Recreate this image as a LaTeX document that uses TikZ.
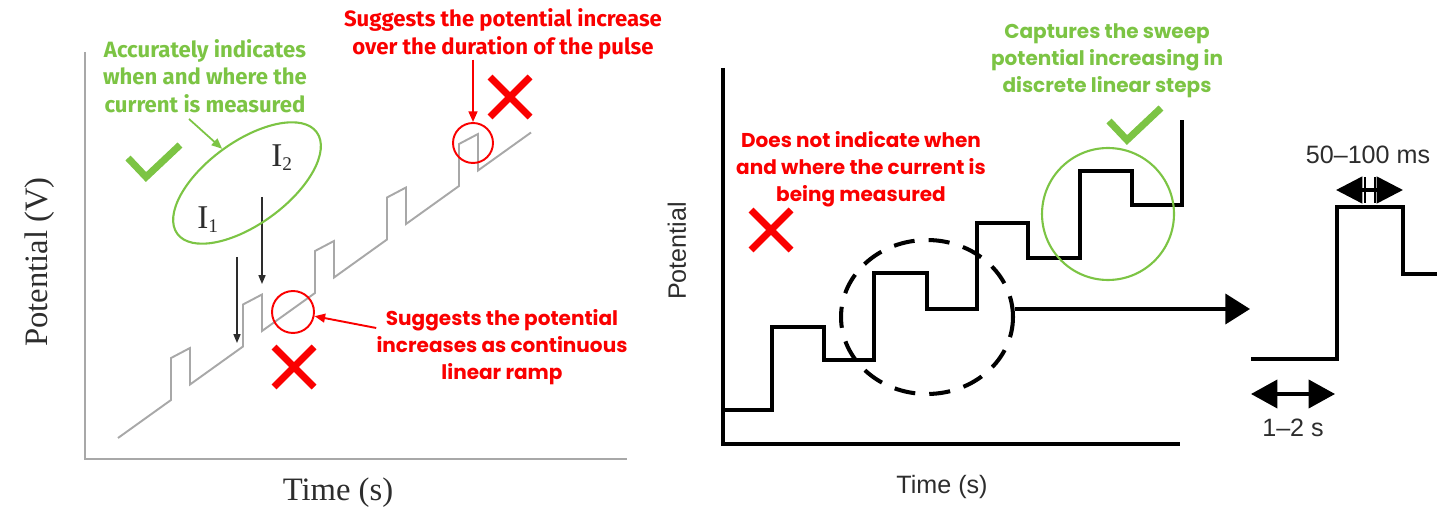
\documentclass[tikz,border=0pt]{standalone}
\usepackage{fontspec}
\usetikzlibrary{arrows.meta,shapes.geometric}
\setmainfont{Liberation Serif}
\newfontfamily\plotsans{Liberation Sans}
\newfontfamily\notefont{Poppins}
\newfontfamily\narrowfont{Fira Sans}

\definecolor{okgreen}{RGB}{124,196,68}
\definecolor{badred}{RGB}{250,0,0}
\definecolor{rampgray}{RGB}{168,168,168}
\definecolor{plotink}{RGB}{45,45,45}

\tikzset{
  % annotation texts
  narrownote/.style={align=center, inner sep=0pt, font=\narrowfont\bfseries\fontsize{12.6}{15.8}\selectfont},
  widenote/.style={align=center, inner sep=0pt, font=\notefont\bfseries\fontsize{11.4}{15.4}\selectfont},
  serifaxis/.style={inner sep=0pt, text=plotink, font=\fontsize{18.6}{20}\selectfont},
  sansaxis/.style={inner sep=0pt, text=plotink, font=\plotsans\fontsize{14.3}{16}\selectfont},
  % lines
  axisgray/.style={draw=rampgray, line width=1.4pt},
  rampline/.style={draw=rampgray, line width=1.1pt, line join=miter},
  stepline/.style={line width=2.4pt, line join=miter},
  measarrow/.style={draw=plotink, line width=0.7pt, -{Triangle[length=5pt,width=4pt]}},
  redarrow/.style={draw=badred, line width=1.1pt, -{Triangle[length=6pt,width=5pt]}},
  greenarrow/.style={draw=okgreen, line width=1pt, -{Triangle[length=6pt,width=5pt]}},
  redring/.style={circle, draw=badred, line width=1.1pt, inner sep=0pt},
  crossline/.style={draw=badred, line width=4pt},
  tickline/.style={draw=okgreen, line width=4pt, line join=miter},
  badmark/.pic={\draw[crossline] (-20,-20) -- (20,20) (-20,20) -- (20,-20);},
  okmark/.pic={\draw[tickline] (-18,-19) -- (0,0) -- (34,-32);}
}

\newcommand{\sublow}[1]{\raisebox{-2pt}{\fontsize{11}{12}\selectfont #1}}

\begin{document}
\begin{tikzpicture}[x=0.02cm, y=-0.02cm]
    \useasboundingbox (0,0) rectangle (1456,526);

    % ---- left panel: axes and labels
    \draw[axisgray] (85,52) -- (85,459) -- (627,459);
    \node[serifaxis, rotate=90] (leftylab) at (40,262) {Potential (V)};
    \node[serifaxis] (leftxlab) at (338,493) {Time (s)};

    % ramp with pulses on top
    \draw[rampline] (118,438)
        \foreach \k in {1,...,5} { -- ++(53,-38) -- ++(0,-42) -- ++(19,-10) -- ++(0,36.5) }
        -- ++(53,-38);

    % where I1 and I2 are sampled
    \coordinate (I1from) at (237,257);
    \coordinate (I1at) at (237,343);
    \coordinate (I2from) at (262,197);
    \coordinate (I2at) at (262,284);
    \draw[measarrow] (I1from) -- (I1at);
    \draw[measarrow] (I2from) -- (I2at);
    \node[serifaxis, anchor=base west, font=\fontsize{18.9}{20}\selectfont] (I1) at (197,229) {I\sublow{1}};
    \node[serifaxis, anchor=base west, font=\fontsize{18.9}{20}\selectfont] (I2) at (271,167) {I\sublow{2}};

    % green remark
    \node[narrownote, text=okgreen] (accTxt) at (205,76) {Accurately indicates\\when and where the\\current is measured};
    \node[ellipse, draw=okgreen, line width=1.2pt, rotate=36, minimum width=3.45cm, minimum height=1.65cm] (pairring) at (247,183) {};
    \coordinate (accFoot) at (189,119);
    \draw[greenarrow] (accFoot) -- (pairring.north);
    \pic at (146,177) {okmark};

    % red remark on the pulse
    \node[narrownote, text=badred] (pulseTxt) at (503,34) {Suggests the potential increase\\over the duration of the pulse};
    \node[redring, minimum size=0.8cm] (pulsering) at (473,143) {};
    \draw[redarrow] (pulseTxt.south -| pulsering) -- (pulsering);
    \pic at (510,97) {badmark};

    % red remark on the ramp
    \node[widenote, text=badred] (rampTxt) at (502,347) {Suggests the potential\\increases as continuous\\linear ramp};
    \node[redring, minimum size=0.84cm] (rampring) at (293,312) {};
    \draw[redarrow] ([yshift=0.38cm]rampTxt.west) -- (rampring);
    \pic at (294,367) {badmark};

    % ---- right panel: axes and labels
    \draw[stepline] (723,68) -- (723,444) -- (1180,444);
    \node[sansaxis, rotate=90] (rightylab) at (677,251) {Potential};
    \node[sansaxis] (rightxlab) at (942,487) {Time (s)};

    % staircase sweep
    \draw[stepline] (723,410) -- (772,410) -- (772,327) -- (824,327) -- (824,360)
        -- (874,360) -- (874,273) -- (927,273) -- (927,309) -- (977,309)
        -- (977,223) -- (1028,223) -- (1028,258) -- (1080,258) -- (1080,171)
        -- (1132,171) -- (1132,205) -- (1182,205) -- (1182,120);

    % dashed zoom ring and arrow to the single step
    \node[ellipse, draw, line width=2.3pt, dash pattern=on 12pt off 8pt, minimum width=3.44cm, minimum height=3.08cm] (zoomring) at (927,317) {};
    \coordinate (insetIn) at (1250,309);
    \draw[line width=2.3pt, -{Triangle[length=14pt,width=17pt]}] (zoomring.east |- insetIn) -- (insetIn);

    % red remark
    \node[widenote, text=badred] (noteTxt) at (861,169) {Does not indicate when\\and where the current is\\being measured};
    \pic at (771,230) {badmark};

    % green remark
    \node[widenote, text=okgreen] (sweepTxt) at (1107,61) {Captures the sweep\\potential increasing in\\discrete linear steps};
    \node[circle, draw=okgreen, line width=1.2pt, minimum size=2.64cm, inner sep=0pt] (stepring) at (1108,214) {};
    \pic at (1127,140) {okmark};

    % ---- single step with its timing
    \draw[stepline] (1251,359) -- (1337,359) -- (1337,207) -- (1403,207) -- (1403,274) -- (1437,274);
    \coordinate (holdL) at (1251,394);
    \coordinate (holdR) at (1335,394);
    \draw[line width=2pt, {Triangle[length=15pt,width=16pt]}-{Triangle[length=15pt,width=16pt]}] (holdL) -- (holdR);
    \node[sansaxis] (holdlab) at (1293,428) {1–2 s};
    \coordinate (pulseL) at (1336,190);
    \coordinate (pulseR) at (1403,190);
    \draw[line width=2pt, {Triangle[length=15pt,width=15pt]}-{Triangle[length=15pt,width=15pt]}] (pulseL) -- (pulseR);
    \draw[line width=1.2pt] (1365,177) -- (1365,203) (1375,177) -- (1375,203);
    \node[sansaxis] (pulselab) at (1368,155) {50–100 ms};
\end{tikzpicture}
\end{document}
